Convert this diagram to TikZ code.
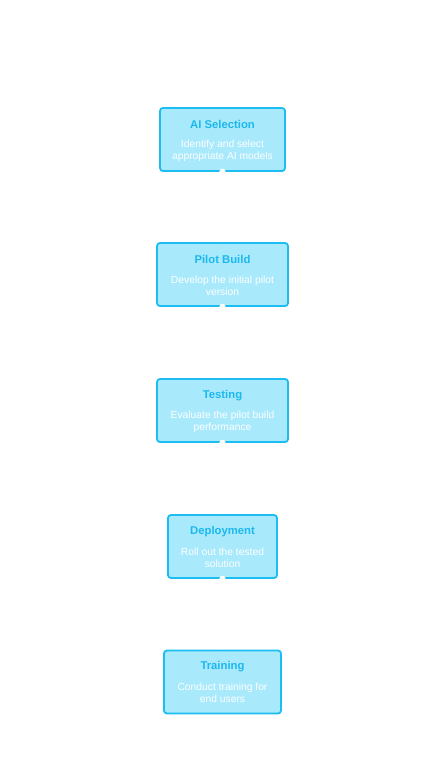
\documentclass[tikz,border=0pt]{standalone}
\usepackage{fontspec}
\setmainfont{Liberation Sans}
\usetikzlibrary{arrows.meta}
\definecolor{boxfill}{HTML}{A8E9FC}
\definecolor{boxdraw}{HTML}{1CBDF2}
\definecolor{titlecol}{HTML}{1CB8EE}
\begin{document}
\begin{tikzpicture}[x=1pt,y=-1pt,
  box/.style={draw=boxdraw,fill=boxfill,line width=1.8pt,rounded corners=3pt,minimum height=63pt,inner sep=0pt},
  ttl/.style={font=\fontsize{11.3}{12}\selectfont\bfseries,text=titlecol,inner sep=0pt},
  dsc/.style={font=\fontsize{10.3}{12}\selectfont,text=white,align=center,inner sep=0pt},
  conn/.style={draw=white,line width=0.8pt,-{Stealth[length=3pt,width=3pt]}},
  dot/.style={fill=white}]
\useasboundingbox[fill=white] (0,0) rectangle (446,763);
\node[box,minimum width=125pt] (b1) at (222.5,139.5) {};
\node[box,minimum width=131pt] (b2) at (222.5,274.5) {};
\node[box,minimum width=131pt] (b3) at (222.5,410.5) {};
\node[box,minimum width=109pt] (b4) at (222.5,546.5) {};
\node[box,minimum width=117pt] (b5) at (222.5,682) {};
\node[ttl] (t1) at ([yshift=-17.3pt]b1.north) {AI Selection};
\node[dsc] (d1) at ([yshift=-43.5pt]b1.north) {Identify and select\\appropriate AI models};
\node[ttl] (t2) at ([yshift=-17.3pt]b2.north) {Pilot Build};
\node[dsc] (d2) at ([yshift=-43.5pt]b2.north) {Develop the initial pilot\\version};
\node[ttl] (t3) at ([yshift=-17.3pt]b3.north) {Testing};
\node[dsc] (d3) at ([yshift=-43.5pt]b3.north) {Evaluate the pilot build\\performance};
\node[ttl] (t4) at ([yshift=-17.3pt]b4.north) {Deployment};
\node[dsc] (d4) at ([yshift=-43.5pt]b4.north) {Roll out the tested\\solution};
\node[ttl] (t5) at ([yshift=-17.3pt]b5.north) {Training};
\node[dsc] (d5) at ([yshift=-43.5pt]b5.north) {Conduct training for\\end users};
\draw[conn] (b1.south) -- (b2.north);
\draw[conn] (b2.south) -- (b3.north);
\draw[conn] (b3.south) -- (b4.north);
\draw[conn] (b4.south) -- (b5.north);
\fill[dot] (b1.south) circle (3.2);
\fill[dot] (b2.south) circle (3.2);
\fill[dot] (b3.south) circle (3.2);
\fill[dot] (b4.south) circle (3.2);
\end{tikzpicture}
\end{document}
